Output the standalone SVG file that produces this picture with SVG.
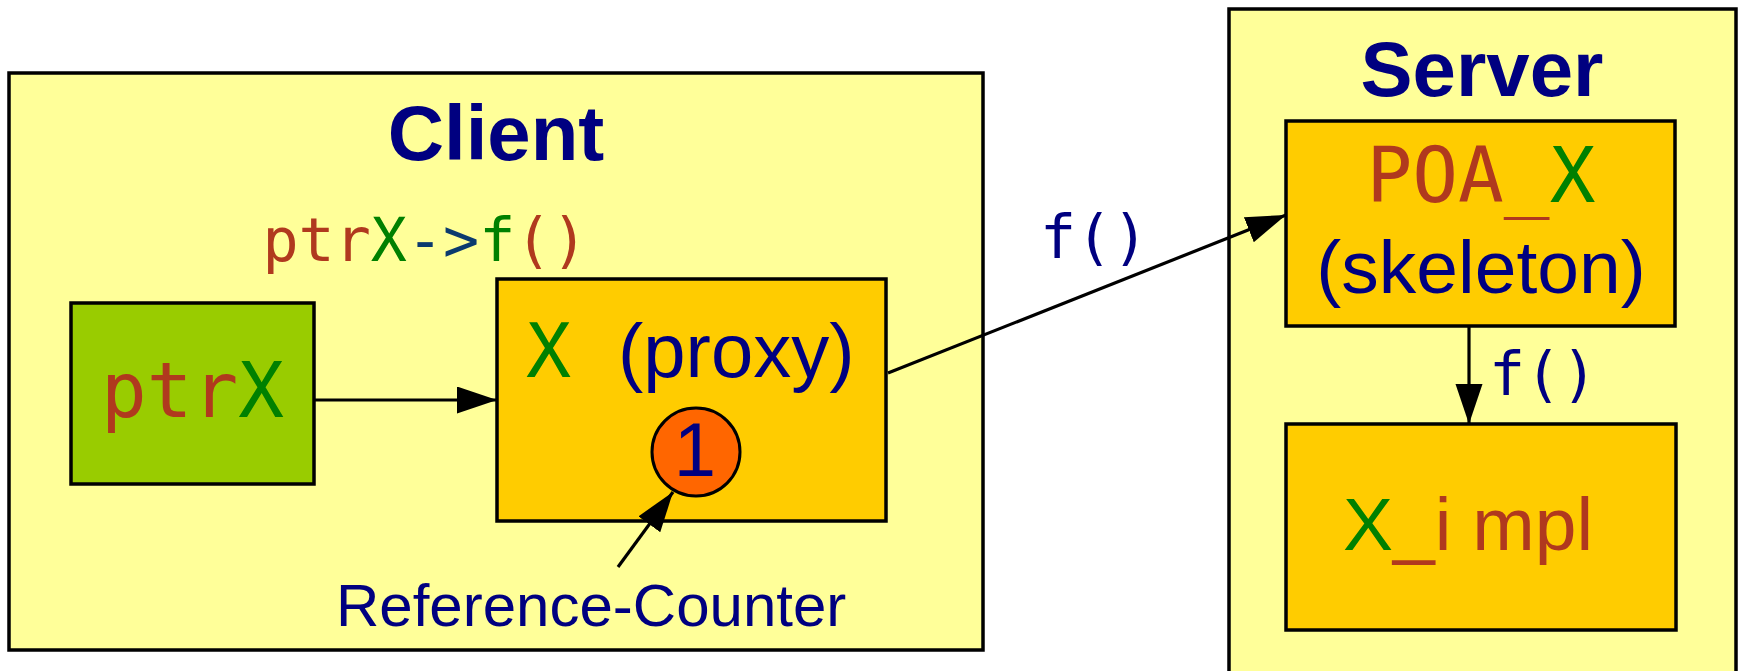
<svg xmlns="http://www.w3.org/2000/svg" width="1742" height="671" viewBox="0 0 1742 671">
<style>
.bg{fill:#ffff99;stroke:#000;stroke-width:3.5}
.obj{fill:#ffcc00;stroke:#000;stroke-width:3.5}
.ptr{fill:#99cc00;stroke:#000;stroke-width:3.5}
.title{font-family:"Liberation Sans",Arial,sans-serif;font-weight:bold;fill:#000080;font-size:78px;text-anchor:middle}
.sans{font-family:"Liberation Sans",Arial,sans-serif}
.mono{font-family:"DejaVu Sans Mono",monospace}
.br{fill:#b0391e}
.gr{fill:#008000}
.nv{fill:#000080}
.conn{stroke:#000;stroke-width:3.2;fill:none}
</style>
<defs>
<marker id="ah" markerUnits="userSpaceOnUse" markerWidth="42" markerHeight="28" refX="40" refY="13.5" orient="auto">
<path d="M0,0 L40,13.5 L0,27 z" fill="#000"/>
</marker>
</defs>
<g id="client">
<rect class="bg" x="9" y="73" width="974" height="577"/>
<text class="title" x="496" y="160">Client</text>
<text class="mono" x="425" y="261" font-size="60" text-anchor="middle"><tspan class="br">ptr</tspan><tspan class="gr">X</tspan><tspan fill="#0b3a6e">-&gt;</tspan><tspan class="gr">f</tspan><tspan class="br">()</tspan></text>
<text class="sans nv" x="336" y="626" font-size="60">Reference-Counter</text>
</g>
<g id="server">
<rect class="bg" x="1229" y="9" width="507" height="700"/>
<text class="title" x="1482" y="96">Server</text>
</g>
<g id="ptrX">
<rect class="ptr" x="71" y="303" width="243" height="181"/>
<text class="mono" x="192.5" y="417" font-size="76" text-anchor="middle"><tspan class="br">ptr</tspan><tspan class="gr">X</tspan></text>
</g>
<g id="proxy">
<rect class="obj" x="497" y="279" width="389" height="242"/>
<text class="mono gr" x="526" y="377" font-size="75">X</text>
<text class="sans nv" x="618" y="377" font-size="76">(proxy)</text>
</g>
<g id="counter">
<circle cx="696" cy="452" r="44" fill="#ff6600" stroke="#000" stroke-width="3"/>
<text class="sans nv" x="695" y="476" font-size="76" text-anchor="middle">1</text>
</g>
<g id="poa">
<rect class="obj" x="1286" y="121" width="389" height="205"/>
<text class="mono" x="1481" y="202" font-size="76" text-anchor="middle"><tspan class="br">POA_</tspan><tspan class="gr">X</tspan></text>
<text class="sans nv" x="1481" y="293" font-size="75" text-anchor="middle">(skeleton)</text>
</g>
<g id="impl">
<rect class="obj" x="1286" y="424" width="390" height="206"/>
<text class="sans" x="1343" y="550" font-size="75"><tspan class="gr">X</tspan><tspan class="br">_i mpl</tspan></text>
</g>
<g id="connectors">
<line class="conn" x1="314" y1="400" x2="497" y2="400" marker-end="url(#ah)"/>
<line class="conn" x1="888" y1="373" x2="1286" y2="215" marker-end="url(#ah)"/>
<text class="mono nv" x="1040" y="258" font-size="60">f()</text>
<line class="conn" x1="1469" y1="326" x2="1469" y2="424" marker-end="url(#ah)"/>
<text class="mono nv" x="1489" y="395" font-size="60">f()</text>
<line class="conn" x1="618" y1="567" x2="673" y2="492" marker-end="url(#ah)"/>
</g>
</svg>
